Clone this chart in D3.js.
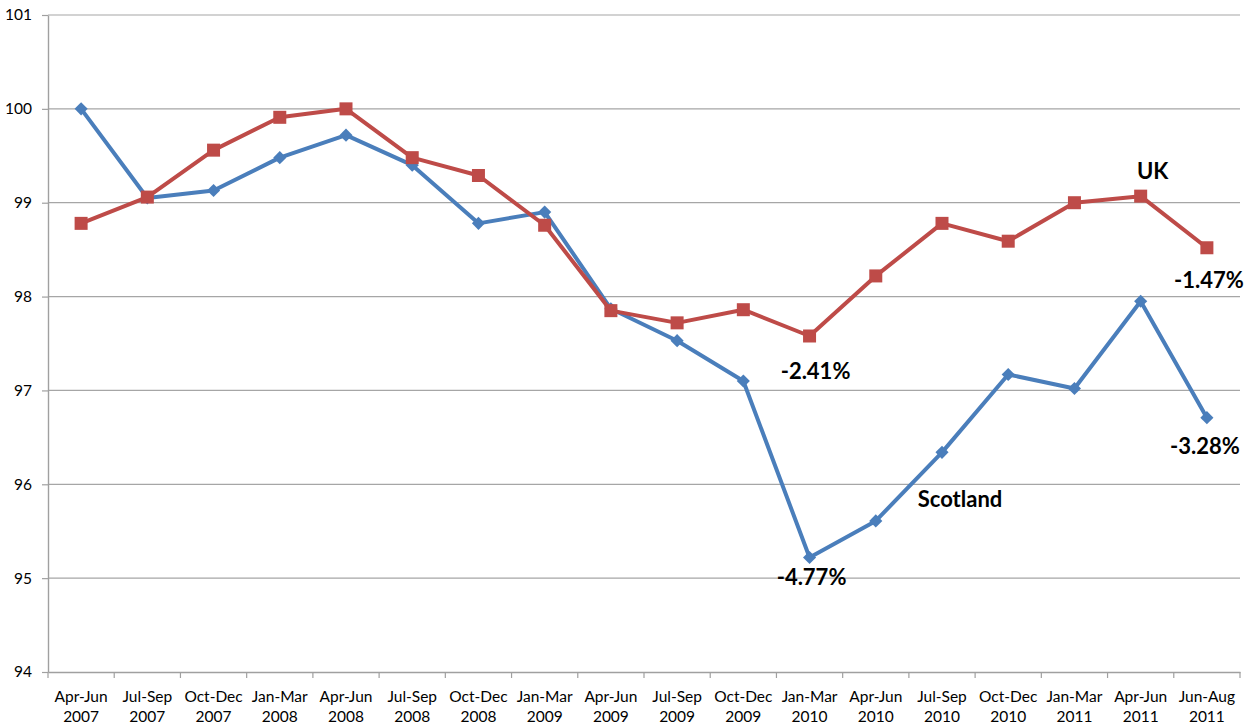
<!DOCTYPE html>
<html>
<head>
<meta charset="utf-8">
<script src="https://cdn.jsdelivr.net/npm/d3@7"></script>
<style>
  body { margin: 0; background: #fff; }
  text { font-family: Lato, "Liberation Sans", sans-serif; }
</style>
</head>
<body>
<div id="chart"></div>
<script>
// Quarters on the x axis (two lines each)
const quarters = ["Apr-Jun", "Jul-Sep", "Oct-Dec", "Jan-Mar", "Apr-Jun", "Jul-Sep", "Oct-Dec", "Jan-Mar", "Apr-Jun",
    "Jul-Sep", "Oct-Dec", "Jan-Mar", "Apr-Jun", "Jul-Sep", "Oct-Dec", "Jan-Mar", "Apr-Jun", "Jun-Aug"];
const years = ["2007", "2007", "2007", "2008", "2008", "2008", "2008", "2009", "2009",
    "2009", "2009", "2010", "2010", "2010", "2010", "2011", "2011", "2011"];

// Index values
const scotland = [100.0, 99.05, 99.13, 99.48, 99.72, 99.40, 98.78, 98.90, 97.87,
    97.53, 97.10, 95.22, 95.61, 96.34, 97.17, 97.02, 97.95, 96.71];
const uk = [98.78, 99.06, 99.56, 99.91, 100.0, 99.48, 99.29, 98.76, 97.85,
    97.72, 97.86, 97.58, 98.22, 98.78, 98.59, 99.0, 99.07, 98.52];

const yTicks = [94, 95, 96, 97, 98, 99, 100, 101];

// Text notes beside the lines
const noteText = ["UK", "-1.47%", "-3.28%", "-2.41%", "-4.77%", "Scotland"];
const noteSeries = ["uk", "uk", "scotland", "uk", "scotland", "scotland"];
const noteIndex = [16, 17, 17, 11, 11, 13];

const width = 1256, height = 725;
const margin = { top: 15, right: 16, bottom: 53, left: 48 };

const svg = d3.select("#chart").append("svg")
    .attr("width", width)
    .attr("height", height);

const keys = quarters.map((q, i) => i);

const x = d3.scaleBand()
    .domain(keys)
    .range([margin.left, width - margin.right])
    .padding(0);

const y = d3.scaleLinear()
    .domain([94, 101])
    .range([height - margin.bottom, margin.top]);

const cx = i => x(i) + x.bandwidth() / 2;

// gridlines
svg.append("g")
    .selectAll("line")
    .data(yTicks.filter(t => t > 94))
    .enter().append("line")
    .attr("x1", margin.left)
    .attr("x2", width - margin.right)
    .attr("y1", d => y(d))
    .attr("y2", d => y(d))
    .style("stroke", "#a6a6a6")
    .style("stroke-width", 1.2);

// y axis
const yAxis = svg.append("g")
    .attr("transform", `translate(${margin.left},0)`)
    .call(d3.axisLeft(y).tickValues(yTicks).tickFormat(d3.format("d"))
        .tickSize(6).tickSizeOuter(0).tickPadding(10));
yAxis.select(".domain").style("stroke", "#a0a0a0").style("stroke-width", 1.4);
yAxis.selectAll(".tick line").style("stroke", "#a0a0a0").style("stroke-width", 1.2);
yAxis.selectAll(".tick text")
    .style("font-size", "15.5px")
    .style("fill", "#000");

// x axis
const xAxis = svg.append("g")
    .attr("transform", `translate(0,${y(94)})`)
    .call(d3.axisBottom(x).tickSize(0).tickSizeOuter(0).tickFormat(""));
xAxis.select(".domain").style("stroke", "#a0a0a0").style("stroke-width", 1.4);

// boundary ticks between quarters
const bounds = keys.map(i => x(i)).concat([width - margin.right]);
xAxis.selectAll(".bound")
    .data(bounds)
    .enter().append("line")
    .attr("class", "bound")
    .attr("x1", d => d)
    .attr("x2", d => d)
    .attr("y1", 0)
    .attr("y2", 6)
    .style("stroke", "#a0a0a0")
    .style("stroke-width", 1.2);

// two-line category labels
const lbl = xAxis.selectAll(".lbl")
    .data(keys)
    .enter().append("text")
    .attr("class", "lbl")
    .attr("text-anchor", "middle")
    .style("font-size", "15.5px")
    .style("fill", "#000");
lbl.append("tspan")
    .attr("x", d => cx(d))
    .attr("y", 30)
    .text(d => quarters[d]);
lbl.append("tspan")
    .attr("x", d => cx(d))
    .attr("y", 50)
    .text(d => years[d]);

// lines
const line = d3.line()
    .x((d, i) => cx(i))
    .y(d => y(d));

const series = [
    { name: "scotland", values: scotland, color: "#4A7EBB" },
    { name: "uk", values: uk, color: "#BE4B48" }
];

series.forEach(s => {
    svg.append("path")
        .attr("d", line(s.values))
        .style("fill", "none")
        .style("stroke", s.color)
        .style("stroke-width", 4)
        .style("stroke-linejoin", "round");
});

// markers
svg.append("g")
    .selectAll("path")
    .data(scotland)
    .enter().append("path")
    .attr("d", d3.symbol().type(d3.symbolDiamond2).size(110))
    .attr("transform", (d, i) => `translate(${cx(i)},${y(d)})`)
    .style("fill", "#4A7EBB");

svg.append("g")
    .selectAll("rect")
    .data(uk)
    .enter().append("rect")
    .attr("x", (d, i) => cx(i) - 6.5)
    .attr("y", d => y(d) - 6.5)
    .attr("width", 13)
    .attr("height", 13)
    .style("fill", "#BE4B48");

// notes, placed relative to their point
const offsets = [[12, -17], [2, 40], [-2, 36], [6, 43], [2, 28], [18, 55]];
noteText.forEach((t, k) => {
    const vals = noteSeries[k] === "uk" ? uk : scotland;
    const i = noteIndex[k];
    svg.append("text")
        .attr("x", cx(i) + offsets[k][0])
        .attr("y", y(vals[i]) + offsets[k][1])
        .attr("text-anchor", "middle")
        .style("font-size", "22px")
        .style("font-weight", "bold")
        .style("fill", "#000")
        .text(t);
});
</script>
</body>
</html>
